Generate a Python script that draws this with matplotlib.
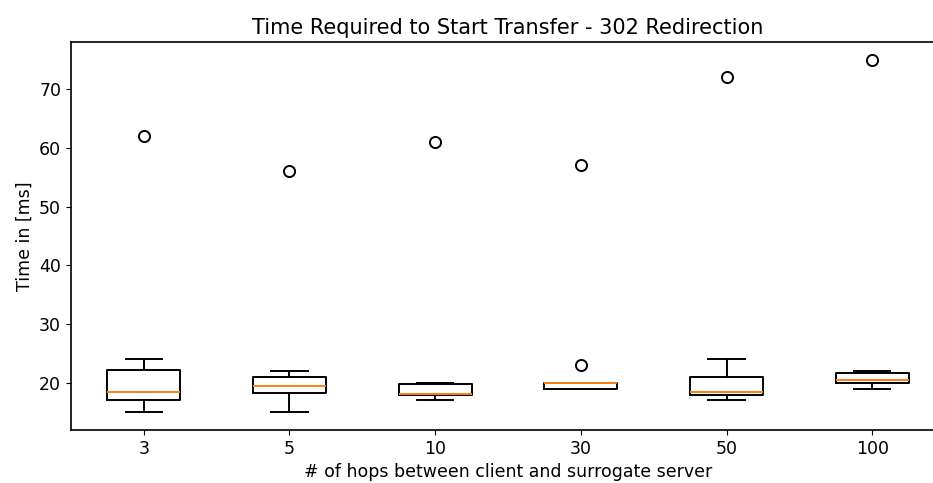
import matplotlib.pyplot as plt

hops = ['3', '5', '10', '30', '50', '100']
med = [18.5, 19.5, 18.1, 20.0, 18.4, 20.5]
q1 = [17.0, 18.2, 18.0, 19.0, 18.0, 20.0]
q3 = [22.2, 21.0, 19.8, 20.0, 21.0, 21.7]
whislo = [15, 15, 17, 19, 17, 19]
whishi = [24, 22, 20, 20, 24, 22]
fliers = [[62], [56], [61], [23, 57], [72], [75]]

stats = []
for i, name in enumerate(hops):
    stats.append({'label': name, 'med': med[i], 'q1': q1[i], 'q3': q3[i],
                  'whislo': whislo[i], 'whishi': whishi[i], 'fliers': fliers[i]})

fig = plt.figure(figsize=(9.33, 4.83), dpi=100)
# the reference image is cropped on the right, so the axes run past the edge
ax = fig.add_axes([0.076, 0.110, 0.937, 0.803])

lw = 1.4
ax.bxp(stats,
       boxprops=dict(linewidth=lw),
       whiskerprops=dict(linewidth=lw),
       capprops=dict(linewidth=lw),
       medianprops=dict(linewidth=lw, color='C1'),
       flierprops=dict(markersize=8, markeredgewidth=1.4))

ax.set_title('Time Required to Start Transfer - 302 Redirection', fontsize=15)
ax.set_xlabel('# of hops between client and surrogate server', fontsize=12.5)
ax.set_ylabel('Time in [ms]', fontsize=12.5)
ax.tick_params(labelsize=12.5)
for s in ax.spines.values():
    s.set_linewidth(1.2)
ax.spines['right'].set_visible(False)

fig.savefig('out.png', dpi=100)
